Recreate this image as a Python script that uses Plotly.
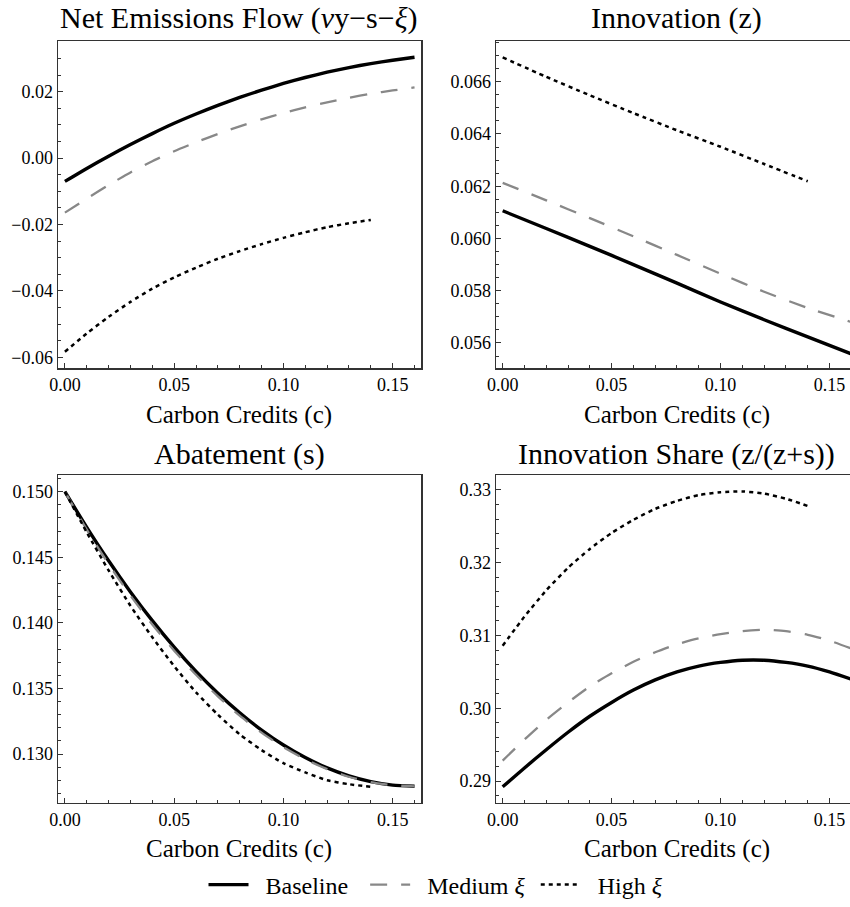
import plotly.graph_objects as go

# ---------------- data ----------------
c_full = [0.00, 0.01, 0.02, 0.03, 0.04, 0.05, 0.06, 0.07, 0.08,
          0.09, 0.10, 0.11, 0.12, 0.13, 0.14, 0.15, 0.16]
c_high = [0.00, 0.01, 0.02, 0.03, 0.04, 0.05, 0.06, 0.07, 0.08,
          0.09, 0.10, 0.11, 0.12, 0.13, 0.14]
c2_full = [0.00, 0.02, 0.04, 0.06, 0.08, 0.10, 0.12, 0.14, 0.16]
c2_high = [0.00, 0.02, 0.04, 0.06, 0.08, 0.10, 0.12, 0.14]

# Net emissions flow
net_base = [-0.0070, -0.0031, 0.0006, 0.0041, 0.0074, 0.0105, 0.0133, 0.0159, 0.0183,
            0.0205, 0.0225, 0.0243, 0.0259, 0.0273, 0.0285, 0.0295, 0.0304]
net_med = [-0.0164, -0.0122, -0.0081, -0.0043, -0.0009, 0.0021, 0.0048, 0.0073, 0.0096,
           0.0117, 0.0136, 0.0153, 0.0168, 0.0182, 0.0194, 0.0204, 0.0213]
net_high = [-0.0583, -0.0528, -0.0478, -0.0433, -0.0393, -0.0359, -0.0330, -0.0303,
            -0.0280, -0.0259, -0.0240, -0.0223, -0.0208, -0.0196, -0.0186]

# Innovation z
inn_base = [0.06106, 0.06038, 0.05970, 0.05900, 0.05829, 0.05757, 0.05689, 0.05623, 0.05558]
inn_med = [0.06213, 0.06146, 0.06078, 0.06008, 0.05937, 0.05865, 0.05796, 0.05734, 0.05680]
inn_high = [0.06693, 0.06619, 0.06548, 0.06480, 0.06414, 0.06351, 0.06285, 0.06219]

# Abatement s
ab_base = [0.15000, 0.14728, 0.14473, 0.14236, 0.14017, 0.13815, 0.13630, 0.13464, 0.13315,
           0.13183, 0.13069, 0.12973, 0.12894, 0.12833, 0.12789, 0.12763, 0.12754]
ab_med = [0.15000, 0.14710, 0.14448, 0.14208, 0.13988, 0.13788, 0.13604, 0.13440, 0.13292,
          0.13163, 0.13052, 0.12960, 0.12885, 0.12827, 0.12786, 0.12762, 0.12754]
ab_high = [0.1500, 0.1469, 0.1440, 0.1413, 0.1389, 0.1367, 0.1347, 0.1330, 0.1315,
           0.1303, 0.1293, 0.1286, 0.1280, 0.1277, 0.1275]

# Innovation share z/(z+s)
sh_base = [0.2892, 0.2918, 0.2943, 0.2967, 0.2989, 0.3008, 0.3025, 0.3039, 0.3050,
           0.3058, 0.3063, 0.3066, 0.3066, 0.3063, 0.3058, 0.3050, 0.3040]
sh_med = [0.2928, 0.2957, 0.2984, 0.3008, 0.3030, 0.3048, 0.3064, 0.3077, 0.3088,
          0.3096, 0.3102, 0.3106, 0.3108, 0.3106, 0.3101, 0.3093, 0.3082]
sh_high = [0.3086, 0.3126, 0.3162, 0.3193, 0.3219, 0.3241, 0.3259, 0.3274, 0.3285,
           0.3293, 0.3297, 0.3298, 0.3295, 0.3288, 0.3278]

series_names = ["\u00a0\u00a0Baseline\u00a0\u00a0", "\u00a0\u00a0Medium <i>ξ</i>\u00a0", "\u00a0\u00a0High\u00a0<i>ξ</i>"]
panel_titles = ["Net Emissions Flow (<i>ν</i>y−s−<i>ξ</i>)", "Innovation (z)",
                "Abatement (s)", "Innovation Share (z/(z+s))"]
x_title = "Carbon Credits (c)"

# ---------------- styling ----------------
W, H = 850, 907
FONT = "Liberation Serif"
FRAME = "#333333"

styles = [
    dict(color="black", width=3.4, dash="solid"),
    dict(color="#888888", width=2.3, dash="17px,14px"),
    dict(color="black", width=2.5, dash="4px,4px"),
]

fig = go.Figure()

panels = [
    ((c_full, net_base), (c_full, net_med), (c_high, net_high)),
    ((c2_full, inn_base), (c2_full, inn_med), (c2_high, inn_high)),
    ((c_full, ab_base), (c_full, ab_med), (c_high, ab_high)),
    ((c_full, sh_base), (c_full, sh_med), (c_high, sh_high)),
]

for i, trio in enumerate(panels):
    ax = "" if i == 0 else str(i + 1)
    for j, (xs, ys) in enumerate(trio):
        fig.add_trace(go.Scatter(
            x=xs, y=ys, mode="lines", line=dict(shape="spline", smoothing=0.6, **styles[j]),
            name=series_names[j], showlegend=(i == 0), legendgroup=str(j),
            xaxis="x" + ax, yaxis="y" + ax,
        ))


def px_x(p):
    return p / W


def px_y(p):
    return 1 - p / H


left_dom = [px_x(57.7), px_x(421.3)]
right_dom = [px_x(495.7), 1.0]
top_dom = [px_y(368.3), px_y(41)]
bot_dom = [px_y(802.7), px_y(475)]

xr_left = [-0.0033, 0.1631]
xr_right = [-0.0032, 0.1594]

y_specs = [
    dict(range=[-0.0633, 0.0353], dtick=0.02, minor=0.005, fmt=".2f"),
    dict(range=[0.05503, 0.06756], dtick=0.002, minor=0.0005, fmt=".3f"),
    dict(range=[0.12629, 0.15127], dtick=0.005, minor=0.001, fmt=".3f"),
    dict(range=[0.28702, 0.33206], dtick=0.01, minor=0.002, fmt=".2f"),
]

tickfont = dict(family=FONT, size=18, color="black")

layout = dict(
    width=W, height=H, margin=dict(l=0, r=0, t=0, b=0, autoexpand=False),
    paper_bgcolor="white", plot_bgcolor="white",
    font=dict(family=FONT, color="black"),
    showlegend=True,
    legend=dict(orientation="h", x=px_x(436), xanchor="center", y=px_y(885), yanchor="middle",
                font=dict(family=FONT, size=24, color="black"), itemwidth=40,
                tracegroupgap=0, bgcolor="rgba(0,0,0,0)"),
)

for i in range(4):
    ax = "" if i == 0 else str(i + 1)
    is_left = i in (0, 2)
    is_top = i in (0, 1)
    layout["xaxis" + ax] = dict(
        domain=left_dom if is_left else right_dom,
        anchor="y" + ax, automargin=False,
        range=xr_left if is_left else xr_right,
        tick0=0, dtick=0.05, tickformat=".2f",
        ticks="inside", ticklen=5, tickwidth=1, tickcolor=FRAME,
        minor=dict(ticks="inside", dtick=0.01, tick0=0, ticklen=3, tickcolor=FRAME, showgrid=False),
        showline=True, linecolor=FRAME, linewidth=1.2, mirror=True,
        showgrid=False, zeroline=False, tickfont=tickfont,
    )
    ys = y_specs[i]
    layout["yaxis" + ax] = dict(
        domain=top_dom if is_top else bot_dom,
        anchor="x" + ax, automargin=False,
        range=ys["range"], tick0=0, dtick=ys["dtick"], tickformat=ys["fmt"],
        ticks="inside", ticklen=5, tickwidth=1, tickcolor=FRAME,
        minor=dict(ticks="inside", dtick=ys["minor"], tick0=0, ticklen=3, tickcolor=FRAME, showgrid=False),
        showline=True, linecolor=FRAME, linewidth=1.2, mirror=is_left,
        showgrid=False, zeroline=False, tickfont=tickfont,
    )

fig.update_layout(**layout)

# titles and axis titles
centers_x = [239.5, 676.9, 239.5, 676.9]
title_y = [18, 18, 454, 454]
axis_title_y = [415, 415, 849, 849]
for i in range(4):
    fig.add_annotation(text=panel_titles[i], x=px_x(centers_x[i]), y=px_y(title_y[i]),
                       xref="paper", yref="paper", xanchor="center", yanchor="middle",
                       showarrow=False, font=dict(family=FONT, size=30, color="black"))
    fig.add_annotation(text=x_title, x=px_x(centers_x[i] if i in (0, 2) else 676.5), y=px_y(axis_title_y[i]),
                       xref="paper", yref="paper", xanchor="center", yanchor="middle",
                       showarrow=False, font=dict(family=FONT, size=25, color="black"))

fig.write_html("out.html",
               config={"displayModeBar": False, "staticPlot": True},
               post_script="document.body.style.margin='0';document.body.style.overflow='hidden';")
